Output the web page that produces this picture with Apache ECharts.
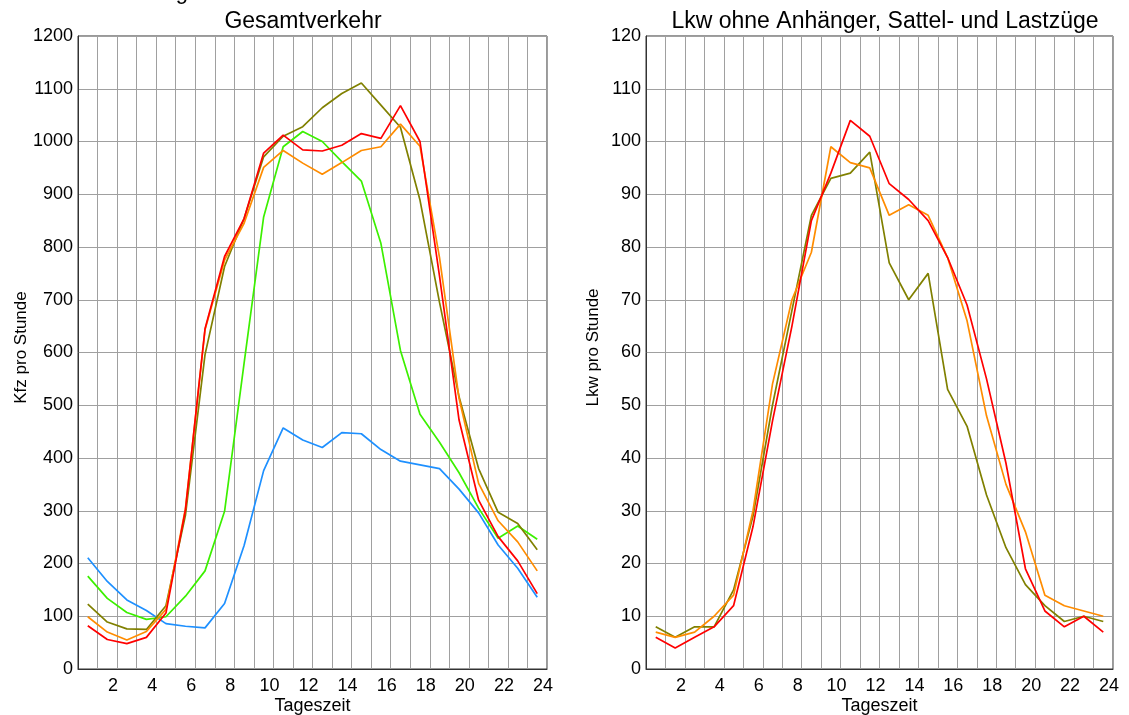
<!DOCTYPE html>
<html>
<head>
<meta charset="utf-8">
<script src="https://cdn.jsdelivr.net/npm/echarts@6/dist/echarts.min.js"></script>
<style>
html,body{margin:0;padding:0;background:#fff;}
#chart{width:1129px;height:715px;}
</style>
</head>
<body>
<div id="chart"></div>
<script>
// Hour midpoints (x positions of the hourly values)
const hours = [0.5, 1.5, 2.5, 3.5, 4.5, 5.5, 6.5, 7.5, 8.5, 9.5, 10.5, 11.5,
               12.5, 13.5, 14.5, 15.5, 16.5, 17.5, 18.5, 19.5, 20.5, 21.5, 22.5, 23.5];

// Left: Gesamtverkehr (Kfz pro Stunde)
const kfzRed    = [82, 56, 48, 60, 106, 302, 645, 782, 854, 978, 1012, 984, 982, 993, 1015, 1006, 1068, 1000, 745, 472, 320, 251, 205, 143];
const kfzOrange = [99, 70, 55, 71, 113, 305, 643, 775, 845, 951, 983, 959, 938, 960, 983, 990, 1033, 991, 780, 513, 352, 281, 241, 186];
const kfzOlive  = [123, 89, 76, 75, 120, 292, 596, 763, 854, 971, 1010, 1028, 1064, 1091, 1111, 1069, 1027, 889, 695, 516, 380, 297, 276, 226];
const kfzGreen  = [176, 134, 107, 94, 99, 138, 186, 299, 580, 857, 990, 1019, 1000, 962, 925, 807, 604, 483, 430, 372, 305, 248, 271, 246];
const kfzBlue   = [211, 166, 131, 111, 86, 81, 78, 124, 234, 376, 457, 434, 420, 448, 446, 416, 394, 387, 380, 341, 296, 235, 191, 136];

// Right: Lkw ohne Anhänger, Sattel- und Lastzüge (Lkw pro Stunde)
const lkwRed    = [6, 4, 6, 8, 12, 27, 47, 65, 85, 94, 104, 101, 92, 89, 85, 78, 69, 55, 39, 19, 11, 8, 10, 7];
const lkwOrange = [7, 6, 7, 10, 14, 30, 54, 70, 79, 99, 96, 95, 86, 88, 86, 78, 66, 48, 35, 26, 14, 12, 11, 10];
const lkwOlive  = [8, 6, 8, 8, 15, 29, 50, 68, 86, 93, 94, 98, 77, 70, 75, 53, 46, 33, 23, 16, 12, 9, 10, 9];

const leftTitle = 'Gesamtverkehr';
const rightTitle = 'Lkw ohne Anhänger, Sattel- und Lastzüge';
const cutTitle = 'Verkehrsbelastung';
const xName = 'Tageszeit';
const leftYName = 'Kfz pro Stunde';
const rightYName = 'Lkw pro Stunde';

const FONT = '"Liberation Sans", Arial, Helvetica, sans-serif';
const C = {red:'#ff0000', orange:'#ff8c00', olive:'#808000', green:'#3cf000', blue:'#1e90ff'};

function pts(arr){ return hours.map((h,i)=>[h, arr[i]]); }
function line(name, arr, color, idx){
  return {name, type:'line', xAxisIndex:idx, yAxisIndex:idx, data:pts(arr),
    symbol:'none', smooth:false, lineStyle:{color, width:1.7}, itemStyle:{color},
    emphasis:{disabled:true}, silent:true, animation:false};
}
function xAx(idx){
  return {type:'value', gridIndex:idx, min:0, max:24, interval:1,
    name:xName, nameLocation:'middle', nameGap:28, nameMoveOverlap:false,
    nameTextStyle:{fontFamily:FONT, fontSize:18, color:'#000'},
    axisLine:{show:true, lineStyle:{color:'#333', width:1}},
    axisTick:{show:false},
    axisLabel:{fontFamily:FONT, fontSize:18, color:'#000', margin:8, padding:[0,8,0,0],
      showMinLabel:true, showMaxLabel:true,
      formatter:v => (v>0 && v%2===0) ? String(v) : ''},
    splitLine:{show:true, lineStyle:{color:'#a0a0a0', width:1}}};
}
function yAx(idx, max, step, name, gap){
  return {type:'value', gridIndex:idx, min:0, max:max, interval:step,
    name:name, nameLocation:'middle', nameGap:gap, nameRotate:90, nameMoveOverlap:false,
    nameTextStyle:{fontFamily:FONT, fontSize:17, color:'#000', padding:[0,0,0,10]},
    axisLine:{show:true, lineStyle:{color:'#333', width:1}},
    axisTick:{show:false},
    axisLabel:{fontFamily:FONT, fontSize:18, color:'#000', margin:5,
      formatter:v => String(v)},
    splitLine:{show:true, lineStyle:{color:'#a0a0a0', width:1}}};
}

const chart = echarts.init(document.getElementById('chart'), null, {renderer:'canvas'});
chart.setOption({
  animation:false,
  backgroundColor:'#fff',
  title:[
    {text:leftTitle, left:298, top:5, textAlign:'center',
     textStyle:{fontFamily:FONT, fontSize:23, fontWeight:'normal', color:'#000'}},
    {text:rightTitle, left:880, top:5, textAlign:'center',
     textStyle:{fontFamily:FONT, fontSize:23, fontWeight:'normal', color:'#000'}}
  ],
  graphic:[
    {type:'text', x:188, y:4, silent:true,
     style:{text:cutTitle, fontFamily:FONT, fontSize:22, fill:'#000', align:'right', verticalAlign:'bottom'}}
  ],
  grid:[
    {left:78, top:36, width:469, height:633, show:true, borderColor:'#333', borderWidth:1,
     backgroundColor:'#fff', containLabel:false, outerBoundsMode:'none'},
    {left:646, top:36, width:467, height:633, show:true, borderColor:'#333', borderWidth:1,
     backgroundColor:'#fff', containLabel:false, outerBoundsMode:'none'}
  ],
  xAxis:[xAx(0), xAx(1)],
  yAxis:[yAx(0, 1200, 100, leftYName, 48), yAx(1, 120, 10, rightYName, 44)],
  series:[
    line('blue', kfzBlue, C.blue, 0),
    line('green', kfzGreen, C.green, 0),
    line('olive', kfzOlive, C.olive, 0),
    line('orange', kfzOrange, C.orange, 0),
    line('red', kfzRed, C.red, 0),
    line('olive', lkwOlive, C.olive, 1),
    line('orange', lkwOrange, C.orange, 1),
    line('red', lkwRed, C.red, 1)
  ]
});
</script>
</body>
</html>
